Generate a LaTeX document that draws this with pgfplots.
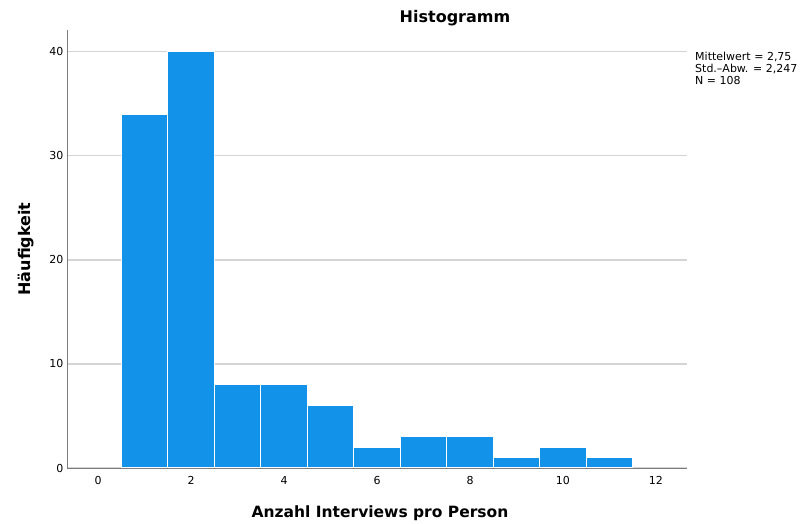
\documentclass[border=0pt]{standalone}
\usepackage{pgfplots}
\pgfplotsset{compat=1.18}
\usepackage{fontspec}
\setmainfont{DejaVu Sans}

\definecolor{barblue}{RGB}{18,146,232}
\definecolor{gridgray}{RGB}{212,212,212}
\definecolor{axisgray}{RGB}{125,125,125}

\begin{document}
\begin{tikzpicture}
\useasboundingbox (0,0) rectangle (802bp,524bp);
\begin{axis}[
    at={(67bp,56bp)}, anchor=south west,
    scale only axis, width=620bp, height=438bp,
    xmin=-0.667, xmax=12.667, ymin=0, ymax=42.1,
    axis x line*=bottom, axis y line*=left,
    axis line style={axisgray, line width=1bp},
    xtick={0,2,...,12}, ytick={0,10,20,30,40},
    major tick length=0pt,
    ymajorgrids, grid style={gridgray, line width=1.2bp},
    /pgf/number format/assume math mode=true,
    tick label style={font=\fontsize{11bp}{12bp}\selectfont},
    xticklabel style={yshift=-5bp},
    title={Histogramm},
    title style={font=\bfseries\fontsize{16bp}{18bp}\selectfont,
        at={(axis description cs:0.5,1)}, anchor=base, xshift=78bp, yshift=2bp},
    xlabel={Anzahl Interviews pro Person},
    xlabel style={font=\bfseries\fontsize{15.5bp}{18bp}\selectfont,
        at={(axis description cs:0.5,0)}, anchor=base, xshift=3bp, yshift=-49bp},
    ylabel={Häufigkeit},
    ylabel style={font=\bfseries\fontsize{16bp}{18bp}\selectfont,
        at={(axis description cs:0,0.5)}, anchor=center, yshift=41bp},
]
\addplot[ybar, bar width=1, fill=barblue, draw=white, line width=1.2bp]
    coordinates {(1,34) (2,40) (3,8) (4,8) (5,6) (6,2) (7,3) (8,3) (9,1) (10,2) (11,1)};
\end{axis}
\node[anchor=north west, inner sep=0pt, align=left,
    font=\fontsize{11bp}{11.8bp}\selectfont] at (695bp,472bp)
    {Mittelwert = 2,75\\Std.--Abw. = 2,247\\N = 108};
\end{tikzpicture}
\end{document}
